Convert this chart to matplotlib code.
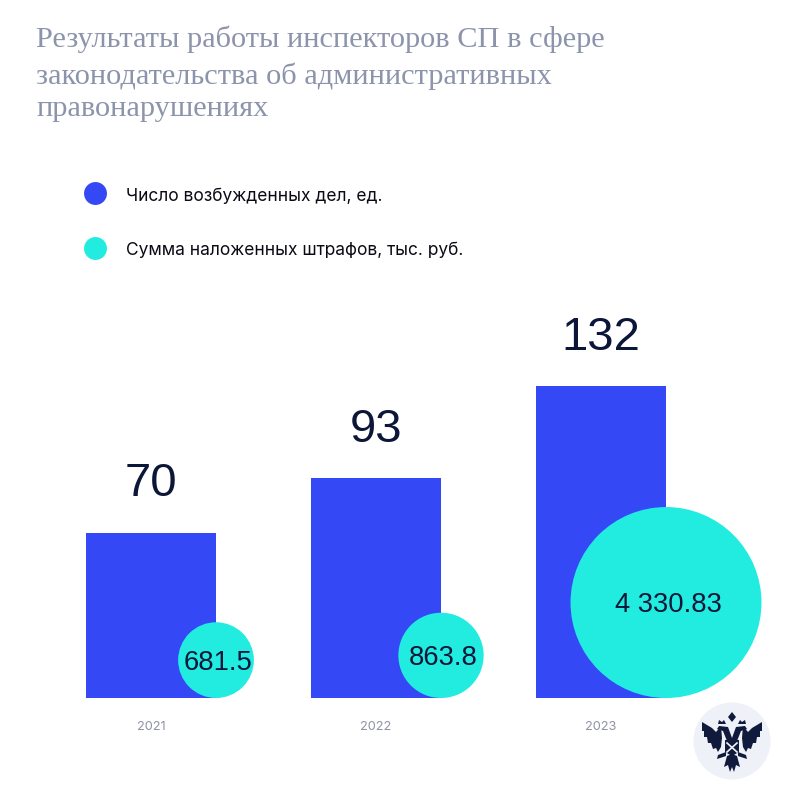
import numpy as np
import matplotlib
matplotlib.use("Agg")
import matplotlib.pyplot as plt
from matplotlib.lines import Line2D
from matplotlib.patches import Circle, Polygon

years = ["2021", "2022", "2023"]
cases = [70, 93, 132]
fines = [681.5, 863.8, 4330.83]
fine_labels = ["681.5", "863.8", "4 330.83"]
title_lines = ["Результаты работы инспекторов СП в сфере",
               "законодательства об административных",
               "правонарушениях"]
legend_labels = ["Число возбужденных дел, ед.", "Сумма наложенных штрафов, тыс. руб."]

BLUE = "#3449F5"
TEAL = "#22EBE0"
DARK = "#0B1638"
SANS = "Liberation Sans"
W, H = 807, 804
BASE = 699
fig = plt.figure(figsize=(W / 100, H / 100), dpi=100, facecolor="white")

ax = fig.add_axes([0, (H - BASE) / H, 1, (BASE - 290) / H])
px_per_unit = 312 / 132
ax.set_ylim(0, (BASE - 290) / px_per_unit)
ax.set_xlim(-151 / 225, (W - 151) / 225)
x = np.arange(len(years))
bw = 130 / 225
ax.bar(x, cases, width=bw, color=BLUE, zorder=2)
for s in ax.spines.values():
    s.set_visible(False)
ax.set_yticks([])
ax.set_xticks(x, years, fontsize=9.2, color="#8E93A3", family="Inter")
ax.tick_params(axis="x", length=0, pad=15.5)
ax.patch.set_alpha(0)

# circle area proportional to fines
px_area = 8.42
diam_px = np.sqrt(px_area * np.array(fines))
sizes = (diam_px * 0.72) ** 2
cx = x + bw / 2
cy = diam_px / 2 / px_per_unit
ax.scatter(cx, cy, s=sizes, color=TEAL, linewidths=0, zorder=3, clip_on=False)

for xi, c in zip(x, cases):
    ax.annotate(str(c), (xi, c), xytext=(0, 35.5), textcoords="offset points", ha="center",
                va="center", fontsize=34, color=DARK, family=SANS)
for xi, yi, lab in zip(cx, cy, fine_labels):
    ax.annotate(lab, (xi, yi), xytext=(1.5, -1), textcoords="offset points", ha="center",
                va="center", fontsize=19.7, color=DARK, family=SANS, zorder=4)

# title
for line, base in zip(title_lines, (47, 84, 116)):
    fig.text(36 / W, 1 - base / H, line, fontsize=21.9,
             family="Liberation Serif", color="#8C94AC", va="baseline", ha="left")

# legend
handles = [Line2D([], [], marker="o", linestyle="", markersize=16.5, color=c, markeredgewidth=0)
           for c in (BLUE, TEAL)]
fig.legend(handles, legend_labels, loc="upper left", bbox_to_anchor=(82 / W, 1 - 187.5 / H),
           frameon=False, labelspacing=2.165, handletextpad=1.03, handlelength=1.5,
           borderpad=0, borderaxespad=0, labelcolor="#0A0A14",
           prop={"family": "Inter", "size": 12.5})

# emblem
ov = fig.add_axes([0, 0, 1, 1], xlim=(0, W), ylim=(H, 0))
ov.axis("off")
ov.patch.set_alpha(0)
LIGHT = "#EEF1F7"
INK = "#101A3C"
ov.add_patch(Circle((732, 742), 38.5, color=LIGHT, lw=0))
def P(pts, c=INK):
    ov.add_patch(Polygon(pts, closed=True, color=c, lw=0))
for sgn in (-1, 1):
    m = lambda pts: [(732 + sgn * a, 742 + b) for a, b in pts]
    P(m([(11, -15), (16, -9), (20, -13), (30, -19), (30, -10), (28, -10), (28, -4), (25, -4),
         (24, 2), (21, 2), (19, 8), (16, 7), (14, 11), (11, 6), (10, -3)]))
    P(m([(0, -3), (4, -14), (13, -15), (15, -12), (9, -10), (5, 0), (0, 5)]))
    P(m([(6, -17), (8, -21), (10, -19), (13, -21), (14, -17)]))
    P(m([(0, 13), (5, 15), (8, 26), (4, 24), (2, 31), (0, 26)]))
    P(m([(6, 11), (14, 14), (15, 18), (6, 15)]))
P([(732, 713), (736, 718), (732, 723), (728, 718)])
P([(725, 741), (739, 741), (739, 753), (732, 757), (725, 753)])
ov.plot([727, 737], [744, 753], color=LIGHT, lw=1.2)
ov.plot([737, 727], [744, 753], color=LIGHT, lw=1.2)

fig.savefig("out.png", dpi=100)
